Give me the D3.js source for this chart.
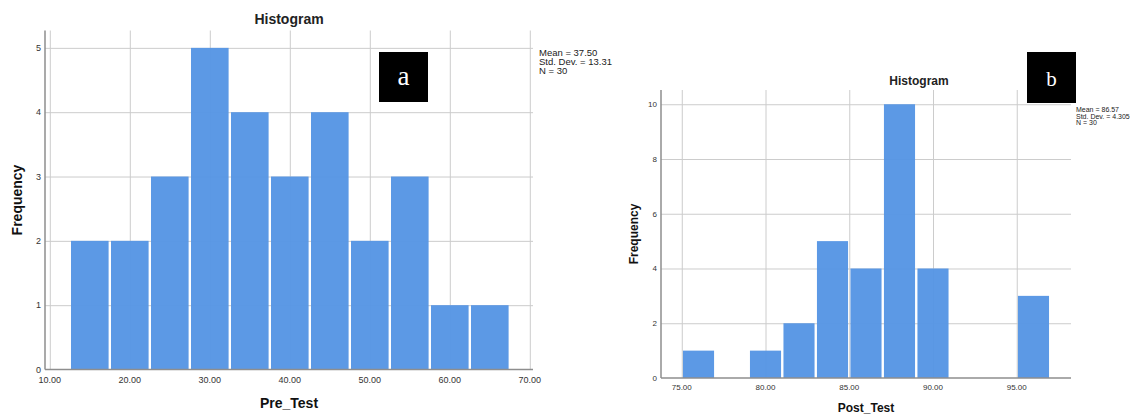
<!DOCTYPE html>
<html>
<head>
<meta charset="utf-8">
<script src="https://cdn.jsdelivr.net/npm/d3@7"></script>
<style>
  body { margin: 0; background: #fff; }
  svg { display: block; font-family: "Liberation Sans", Arial, sans-serif; }
</style>
</head>
<body>
<svg id="chart" width="1138" height="414"></svg>
<script>
// pre test histogram (panel a)
let preBinLow = [12.5, 17.5, 22.5, 27.5, 32.5, 37.5, 42.5, 47.5, 52.5, 57.5, 62.5];
let preCounts = [2, 2, 3, 5, 4, 3, 4, 2, 3, 1, 1];
let preXTicks = [10, 20, 30, 40, 50, 60, 70];
let preYTicks = [0, 1, 2, 3, 4, 5];
let preStats = ["Mean = 37.50", "Std. Dev. = 13.31", "N = 30"];

// post test histogram (panel b)
let postBinLow = [75, 77, 79, 81, 83, 85, 87, 89, 91, 93, 95];
let postCounts = [1, 0, 1, 2, 5, 4, 10, 4, 0, 0, 3];
let postXTicks = [75, 80, 85, 90, 95];
let postYTicks = [0, 2, 4, 6, 8, 10];
let postStats = ["Mean = 86.57", "Std. Dev. = 4.305", "N = 30"];

let barBlue = "#5595e4";
let gridGray = "#cccccc";
let axisGray = "#8e8e8e";

let svg = d3.select("#chart");

drawHistogram({
    binLow: preBinLow, binWidth: 5, counts: preCounts,
    xTicks: preXTicks, yTicks: preYTicks, stats: preStats,
    xDomain: [9.4, 70.4], yDomain: [0, 5.27],
    left: 45, right: 533, top: 30.5, bottom: 369.5,
    xLabel: "Pre_Test", letter: "a",
    tickFont: 9, labelFont: 14, titleFont: 14, statFont: 9.5, statGap: 9,
    titleY: 24, xLabelY: 408, yLabelX: 22, tickY: 383, yTickX: 41,
    statX: 539, statY: 56,
    box: {x: 379, y: 52, w: 49, h: 50, font: 27, baseY: 85}
});

drawHistogram({
    binLow: postBinLow, binWidth: 2, counts: postCounts,
    xTicks: postXTicks, yTicks: postYTicks, stats: postStats,
    xDomain: [73.76, 98.24], yDomain: [0, 10.52],
    left: 661, right: 1071, top: 90, bottom: 378,
    xLabel: "Post_Test", letter: "b",
    tickFont: 8, labelFont: 12, titleFont: 12, statFont: 7, statGap: 6.5,
    titleY: 85, xLabelY: 412, yLabelX: 638, tickY: 389.5, yTickX: 657,
    statX: 1076, statY: 112, titleX: 919,
    box: {x: 1027, y: 52, w: 49, h: 51, font: 21, baseY: 86}
});

function drawHistogram(c) {
    let g = svg.append("g");

    let x = d3.scaleLinear().domain(c.xDomain).range([c.left, c.right]);
    let y = d3.scaleLinear().domain(c.yDomain).range([c.bottom, c.top]);

    // vertical gridlines
    g.append("g")
        .attr("transform", "translate(0," + c.bottom + ")")
        .call(d3.axisBottom(x).tickValues(c.xTicks).tickSize(-(c.bottom - c.top)).tickFormat(""))
        .call(a => a.select(".domain").remove())
        .selectAll("line").attr("stroke", gridGray);

    // horizontal gridlines
    g.append("g")
        .attr("transform", "translate(" + c.left + ",0)")
        .call(d3.axisLeft(y).tickValues(c.yTicks.slice(1)).tickSize(-(c.right - c.left)).tickFormat(""))
        .call(a => a.select(".domain").remove())
        .selectAll("line").attr("stroke", gridGray);

    // bars
    let data = c.binLow.map((d, i) => ({low: d, count: c.counts[i]})).filter(d => d.count > 0);
    g.selectAll("rect.bar")
        .data(data)
        .enter()
        .append("rect")
        .attr("class", "bar")
        .attr("x", d => x(d.low) + 1.2)
        .attr("width", d => x(d.low + c.binWidth) - x(d.low) - 2.4)
        .attr("y", d => y(d.count))
        .attr("height", d => y(0) - y(d.count))
        .attr("fill", barBlue)
        .attr("fill-opacity", 0.96);

    // axis lines
    g.append("line")
        .attr("x1", c.left).attr("x2", c.left)
        .attr("y1", c.top).attr("y2", c.bottom)
        .attr("stroke", axisGray).attr("stroke-width", 1.5);
    g.append("line")
        .attr("x1", c.left).attr("x2", c.right)
        .attr("y1", c.bottom).attr("y2", c.bottom)
        .attr("stroke", axisGray).attr("stroke-width", 1.5);

    // tick labels
    g.selectAll("text.xtick")
        .data(c.xTicks)
        .enter()
        .append("text")
        .attr("class", "xtick")
        .attr("x", d => x(d))
        .attr("y", c.tickY)
        .attr("text-anchor", "middle")
        .attr("font-size", c.tickFont)
        .attr("fill", "#333")
        .text(d3.format(".2f"));

    g.selectAll("text.ytick")
        .data(c.yTicks)
        .enter()
        .append("text")
        .attr("class", "ytick")
        .attr("x", c.yTickX)
        .attr("y", d => y(d))
        .attr("dy", "0.35em")
        .attr("text-anchor", "end")
        .attr("font-size", c.tickFont)
        .attr("fill", "#333")
        .text(d => d);

    // titles
    g.append("text")
        .attr("x", c.titleX || (c.left + c.right) / 2)
        .attr("y", c.titleY)
        .attr("text-anchor", "middle")
        .attr("font-size", c.titleFont)
        .attr("font-weight", "bold")
        .attr("fill", "#222")
        .text("Histogram");

    g.append("text")
        .attr("x", (c.left + c.right) / 2)
        .attr("y", c.xLabelY)
        .attr("text-anchor", "middle")
        .attr("font-size", c.labelFont)
        .attr("font-weight", "bold")
        .attr("fill", "#111")
        .text(c.xLabel);

    g.append("text")
        .attr("transform", "translate(" + c.yLabelX + "," + (c.top + c.bottom) / 2 + ") rotate(-90)")
        .attr("text-anchor", "middle")
        .attr("font-size", c.labelFont)
        .attr("font-weight", "bold")
        .attr("fill", "#111")
        .text("Frequency");

    // stats block
    g.selectAll("text.stat")
        .data(c.stats)
        .enter()
        .append("text")
        .attr("class", "stat")
        .attr("x", c.statX)
        .attr("y", (d, i) => c.statY + i * c.statGap)
        .attr("font-size", c.statFont)
        .attr("fill", "#222")
        .text(d => d);

    // panel letter box
    g.append("rect")
        .attr("x", c.box.x).attr("y", c.box.y)
        .attr("width", c.box.w).attr("height", c.box.h)
        .attr("fill", "#000");
    g.append("text")
        .attr("x", c.box.x + c.box.w / 2)
        .attr("y", c.box.baseY)
        .attr("text-anchor", "middle")
        .attr("font-family", "'Liberation Serif', 'DejaVu Serif', serif")
        .attr("font-size", c.box.font)
        .attr("fill", "#fff")
        .text(c.letter);
}
</script>
</body>
</html>
